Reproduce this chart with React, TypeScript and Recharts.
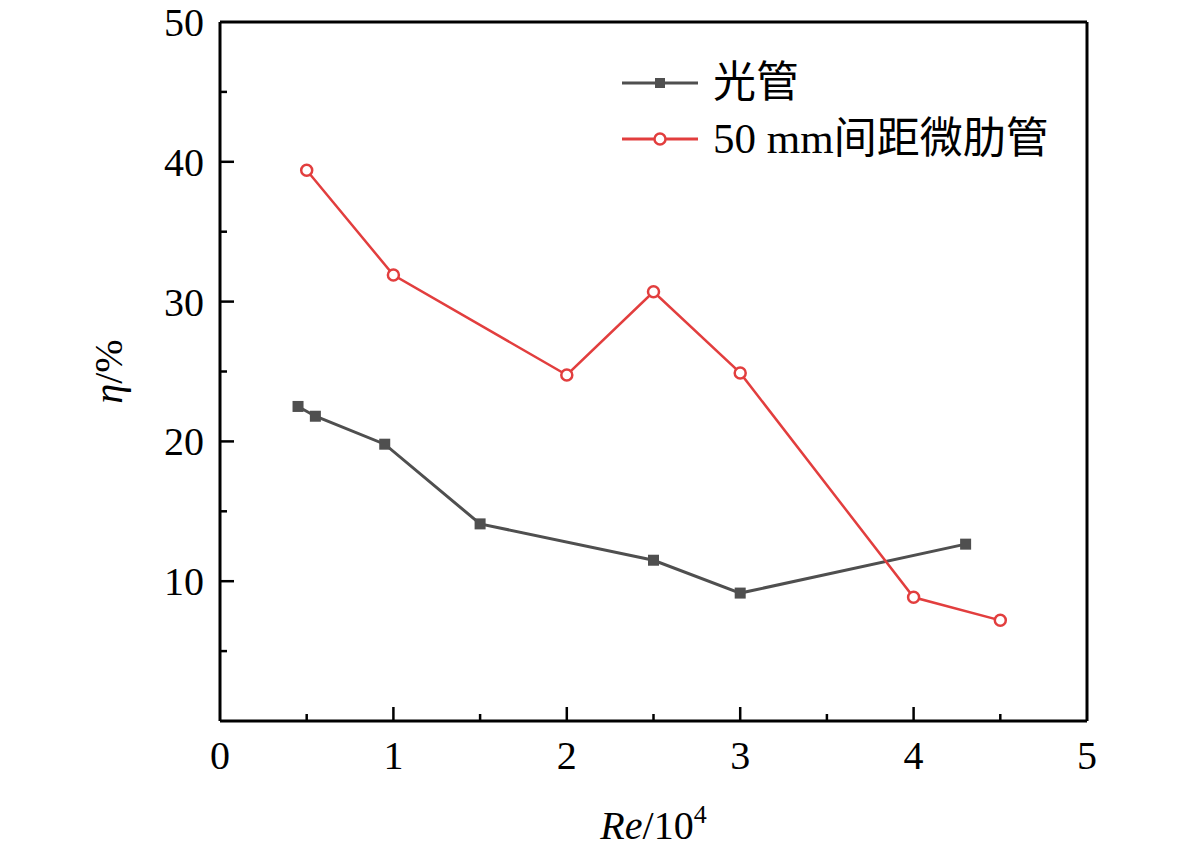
import { Label, Line, LineChart, ReferenceLine, XAxis, YAxis } from 'recharts';

// Re/10^4 vs eta (%)
const smoothRe = [0.45, 0.55, 0.95, 1.5, 2.5, 3.0, 4.3];
const smoothEta = [22.5, 21.8, 19.8, 14.1, 11.5, 9.15, 12.65];

const ribbedRe = [0.5, 1.0, 2.0, 2.5, 3.0, 4.0, 4.5];
const ribbedEta = [39.4, 31.9, 24.75, 30.7, 24.9, 8.85, 7.2];

const seriesNames = ['光管', '50 mm间距微肋管'];

const xTicks = [0, 0.5, 1, 1.5, 2, 2.5, 3, 3.5, 4, 4.5, 5];
const yTicks = [0, 5, 10, 15, 20, 25, 30, 35, 40, 45, 50];

const GRAY = '#4f4f4f';
const RED = '#e23e3e';
const SERIF = '"Liberation Serif", "Times New Roman", serif';
const CJK = '"Liberation Serif", "Noto Sans CJK SC", serif';

const smoothData = smoothRe.map((re, i) => ({ re, eta: smoothEta[i] }));
const ribbedData = ribbedRe.map((re, i) => ({ re, eta: ribbedEta[i] }));

function YTick(props: any) {
  const { x, y, payload } = props;
  const v = payload.value;
  const major = v % 10 === 0;
  return (
    <g>
      {v > 0 && v < 50 && (
        <line x1={x} x2={x + (major ? 14 : 7)} y1={y} y2={y} stroke="#000" strokeWidth={2.5} />
      )}
      {major && v > 0 && (
        <text x={x - 16} y={y} dy="0.35em" textAnchor="end" fontFamily={SERIF} fontSize={40} fill="#000">
          {v}
        </text>
      )}
    </g>
  );
}

function XTick(props: any) {
  const { x, y, payload } = props;
  const v = payload.value;
  const major = Number.isInteger(v);
  return (
    <g>
      {v > 0 && v < 5 && (
        <line x1={x} x2={x} y1={y} y2={y - (major ? 14 : 7)} stroke="#000" strokeWidth={2.5} />
      )}
      {major && (
        <text x={x} y={y + 34} dy="0.35em" textAnchor="middle" fontFamily={SERIF} fontSize={40} fill="#000">
          {v}
        </text>
      )}
    </g>
  );
}

function XTitle(props: any) {
  const { x, y, width } = props.viewBox;
  return (
    <text x={x + width / 2} y={y + 104} dy="0.35em" textAnchor="middle" fontFamily={SERIF} fontSize={40} fill="#000">
      <tspan fontStyle="italic">Re</tspan>
      <tspan>/10</tspan>
      <tspan fontSize={26} dy="-16">4</tspan>
    </text>
  );
}

function YTitle(props: any) {
  const { y, height } = props.viewBox;
  const cx = 108;
  const cy = y + height / 2;
  return (
    <text
      x={cx}
      y={cy}
      dy="0.35em"
      textAnchor="middle"
      transform={`rotate(-90 ${cx} ${cy})`}
      fontFamily={SERIF}
      fontSize={40}
      fill="#000"
    >
      <tspan fontStyle="italic">η</tspan>
      <tspan>/%</tspan>
    </text>
  );
}

function LegendBox() {
  const rows = [
    { name: seriesNames[0], color: GRAY, marker: 'square' },
    { name: seriesNames[1], color: RED, marker: 'circle' },
  ];
  return (
    <div style={{ position: 'absolute', left: 620, top: 55 }}>
      {rows.map((r) => (
        <div key={r.name} style={{ display: 'flex', alignItems: 'center', height: 56 }}>
          <svg width={80} height={20}>
            <line x1={2} x2={78} y1={10} y2={10} stroke={r.color} strokeWidth={3} />
            {r.marker === 'square' ? (
              <rect x={35} y={5} width={10} height={10} fill={r.color} />
            ) : (
              <circle cx={40} cy={10} r={5.5} fill="#fff" stroke={r.color} strokeWidth={2.5} />
            )}
          </svg>
          <span style={{ fontFamily: CJK, fontSize: 43, marginLeft: 13, color: '#000', whiteSpace: 'nowrap', lineHeight: '56px' }}>
            {r.name}
          </span>
        </div>
      ))}
    </div>
  );
}

export default function App() {
  return (
    <div style={{ position: 'absolute', left: 0, top: 0, width: 1181, height: 850, background: '#fff' }}>
      <LineChart width={1181} height={850} margin={{ top: 22, right: 94, bottom: 9, left: 0 }}>
        <XAxis
          type="number"
          dataKey="re"
          domain={[0, 5]}
          ticks={xTicks}
          allowDataOverflow
          height={120}
          axisLine={{ stroke: '#000', strokeWidth: 3 }}
          tickLine={false}
          tickSize={0}
          tickMargin={0}
          tick={<XTick />}
          interval={0}
        >
          <Label content={<XTitle />} />
        </XAxis>
        <YAxis
          type="number"
          dataKey="eta"
          domain={[0, 50]}
          ticks={yTicks}
          allowDataOverflow
          width={220}
          axisLine={{ stroke: '#000', strokeWidth: 3 }}
          tickLine={false}
          tickSize={0}
          tickMargin={0}
          tick={<YTick />}
          interval={0}
        >
          <Label content={<YTitle />} />
        </YAxis>
        <ReferenceLine y={50} stroke="#000" strokeWidth={3} />
        <ReferenceLine x={5} stroke="#000" strokeWidth={3} />
        <Line
          data={smoothData}
          dataKey="eta"
          name={seriesNames[0]}
          type="linear"
          stroke={GRAY}
          strokeWidth={3}
          isAnimationActive={false}
          dot={(p: any) => (
            <rect key={`s${p.index}`} x={p.cx - 5.5} y={p.cy - 5.5} width={11} height={11} fill={GRAY} />
          )}
        />
        <Line
          data={ribbedData}
          dataKey="eta"
          name={seriesNames[1]}
          type="linear"
          stroke={RED}
          strokeWidth={2.5}
          isAnimationActive={false}
          dot={{ r: 5.5, fill: '#fff', stroke: RED, strokeWidth: 2.5 }}
        />
      </LineChart>
      <LegendBox />
    </div>
  );
}
